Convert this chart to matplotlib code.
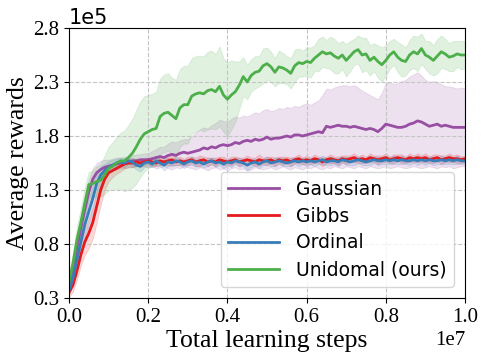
import numpy as np
import matplotlib
matplotlib.use("Agg")
import matplotlib.pyplot as plt

# values in units of 1e5, sampled every 1e5 steps (0 .. 1e7)
gaussian_mean = [
    0.40, 0.55, 0.76, 0.95, 1.12, 1.28, 1.40, 1.46, 1.49, 1.51,
    1.52, 1.53, 1.54, 1.55, 1.56, 1.56, 1.57, 1.57, 1.58, 1.58,
    1.58, 1.59, 1.60, 1.61, 1.60, 1.62, 1.63, 1.62, 1.64, 1.65,
    1.64, 1.65, 1.66, 1.67, 1.69, 1.68, 1.70, 1.69, 1.71, 1.72,
    1.71, 1.72, 1.74, 1.73, 1.75, 1.76, 1.75, 1.77, 1.76, 1.77,
    1.79, 1.77, 1.78, 1.78, 1.79, 1.80, 1.79, 1.81, 1.81, 1.80,
    1.81, 1.82, 1.83, 1.84, 1.83, 1.89, 1.88, 1.89, 1.90, 1.89,
    1.89, 1.88, 1.89, 1.88, 1.87, 1.86, 1.87, 1.86, 1.84, 1.87,
    1.91, 1.90, 1.89, 1.88, 1.88, 1.89, 1.91, 1.92, 1.94, 1.93,
    1.91, 1.89, 1.90, 1.91, 1.89, 1.90, 1.89, 1.88, 1.88, 1.88, 1.88]
gaussian_upper = [
    0.48, 0.66, 0.88, 1.07, 1.24, 1.40, 1.50, 1.55, 1.57, 1.58,
    1.58, 1.59, 1.60, 1.60, 1.61, 1.61, 1.62, 1.63, 1.63, 1.64,
    1.64, 1.66, 1.68, 1.70, 1.70, 1.73, 1.75, 1.74, 1.76, 1.77,
    1.77, 1.80, 1.83, 1.86, 1.88, 1.87, 1.90, 1.92, 1.95, 1.94,
    1.93, 1.96, 1.98, 1.97, 1.99, 1.98, 2.00, 2.02, 2.01, 2.04,
    2.05, 2.03, 2.04, 2.06, 2.05, 2.07, 2.06, 2.08, 2.07, 2.09,
    2.10, 2.09, 2.11, 2.13, 2.18, 2.24, 2.23, 2.25, 2.26, 2.27,
    2.27, 2.26, 2.27, 2.25, 2.22, 2.20, 2.18, 2.16, 2.14, 2.20,
    2.29, 2.30, 2.28, 2.29, 2.31, 2.32, 2.35, 2.37, 2.39, 2.36,
    2.32, 2.30, 2.31, 2.30, 2.28, 2.26, 2.26, 2.25, 2.24, 2.25, 2.24]
gaussian_lower = [
    0.34, 0.45, 0.64, 0.82, 0.98, 1.14, 1.28, 1.37, 1.42, 1.45,
    1.47, 1.48, 1.49, 1.50, 1.50, 1.51, 1.51, 1.52, 1.52, 1.52,
    1.51, 1.52, 1.50, 1.51, 1.52, 1.50, 1.49, 1.51, 1.50, 1.52,
    1.51, 1.50, 1.49, 1.51, 1.50, 1.48, 1.50, 1.51, 1.49, 1.50,
    1.48, 1.50, 1.51, 1.49, 1.50, 1.48, 1.49, 1.51, 1.50, 1.49,
    1.50, 1.51, 1.49, 1.50, 1.52, 1.50, 1.49, 1.51, 1.50, 1.49,
    1.51, 1.50, 1.52, 1.50, 1.49, 1.51, 1.50, 1.52, 1.51, 1.50,
    1.52, 1.51, 1.50, 1.52, 1.51, 1.50, 1.52, 1.51, 1.50, 1.51,
    1.52, 1.50, 1.51, 1.52, 1.51, 1.50, 1.51, 1.52, 1.51, 1.50,
    1.51, 1.52, 1.51, 1.50, 1.52, 1.51, 1.52, 1.50, 1.51, 1.52, 1.52]

gibbs_mean = [
    0.35, 0.42, 0.55, 0.70, 0.82, 0.90, 1.00, 1.15, 1.30, 1.40,
    1.46, 1.48, 1.50, 1.52, 1.54, 1.55, 1.55, 1.56, 1.55, 1.56,
    1.57, 1.56, 1.55, 1.57, 1.56, 1.57, 1.58, 1.56, 1.57, 1.56,
    1.57, 1.58, 1.56, 1.57, 1.58, 1.56, 1.57, 1.56, 1.58, 1.57,
    1.56, 1.57, 1.58, 1.56, 1.57, 1.58, 1.57, 1.56, 1.58, 1.57,
    1.57, 1.58, 1.56, 1.58, 1.57, 1.58, 1.56, 1.58, 1.59, 1.57,
    1.58, 1.57, 1.59, 1.58, 1.56, 1.58, 1.59, 1.58, 1.57, 1.59,
    1.58, 1.59, 1.60, 1.58, 1.59, 1.58, 1.60, 1.59, 1.58, 1.59,
    1.60, 1.58, 1.59, 1.60, 1.59, 1.58, 1.60, 1.59, 1.60, 1.59,
    1.60, 1.58, 1.59, 1.60, 1.58, 1.59, 1.60, 1.59, 1.59, 1.58, 1.59]
gibbs_spread = [
    0.04, 0.06, 0.08, 0.10, 0.12, 0.14, 0.15, 0.15, 0.14, 0.10,
    0.08, 0.06, 0.05, 0.05, 0.04, 0.04, 0.04, 0.03, 0.04, 0.03,
    0.03, 0.04, 0.03, 0.04, 0.03, 0.04, 0.05, 0.03, 0.04, 0.03,
    0.04, 0.03, 0.04, 0.05, 0.03, 0.04, 0.03, 0.04, 0.03, 0.04,
    0.03, 0.04, 0.03, 0.04, 0.03, 0.04, 0.03, 0.04, 0.05, 0.03,
    0.04, 0.03, 0.04, 0.03, 0.04, 0.03, 0.04, 0.03, 0.04, 0.03,
    0.04, 0.03, 0.04, 0.03, 0.04, 0.03, 0.04, 0.03, 0.04, 0.03,
    0.04, 0.03, 0.04, 0.03, 0.04, 0.03, 0.04, 0.03, 0.04, 0.03,
    0.04, 0.03, 0.04, 0.03, 0.04, 0.03, 0.04, 0.03, 0.04, 0.03,
    0.04, 0.03, 0.04, 0.03, 0.04, 0.03, 0.04, 0.03, 0.04, 0.03, 0.03]

ordinal_mean = [
    0.37, 0.48, 0.65, 0.82, 0.98, 1.10, 1.22, 1.36, 1.44, 1.48,
    1.51, 1.53, 1.55, 1.56, 1.55, 1.57, 1.56, 1.53, 1.52, 1.55,
    1.56, 1.54, 1.57, 1.55, 1.53, 1.56, 1.55, 1.57, 1.56, 1.54,
    1.56, 1.57, 1.55, 1.56, 1.54, 1.56, 1.57, 1.55, 1.56, 1.54,
    1.56, 1.55, 1.57, 1.56, 1.55, 1.53, 1.55, 1.56, 1.54, 1.56,
    1.57, 1.55, 1.56, 1.57, 1.56, 1.55, 1.56, 1.57, 1.56, 1.57,
    1.56, 1.57, 1.56, 1.57, 1.58, 1.56, 1.57, 1.57, 1.56, 1.58,
    1.57, 1.56, 1.57, 1.58, 1.57, 1.56, 1.57, 1.58, 1.57, 1.57,
    1.58, 1.57, 1.58, 1.57, 1.58, 1.57, 1.57, 1.58, 1.57, 1.58,
    1.57, 1.58, 1.57, 1.57, 1.58, 1.57, 1.58, 1.57, 1.58, 1.57, 1.57]
ordinal_spread = [
    0.03, 0.05, 0.08, 0.10, 0.11, 0.12, 0.12, 0.10, 0.08, 0.06,
    0.06, 0.05, 0.04, 0.04, 0.04, 0.03, 0.04, 0.04, 0.05, 0.04,
    0.04, 0.03, 0.04, 0.03, 0.05, 0.04, 0.03, 0.04, 0.03, 0.04,
    0.03, 0.04, 0.03, 0.04, 0.03, 0.04, 0.03, 0.04, 0.03, 0.04,
    0.03, 0.04, 0.03, 0.04, 0.03, 0.05, 0.04, 0.03, 0.04, 0.03,
    0.04, 0.03, 0.04, 0.03, 0.04, 0.03, 0.04, 0.03, 0.04, 0.03,
    0.04, 0.03, 0.04, 0.03, 0.04, 0.03, 0.04, 0.03, 0.04, 0.03,
    0.04, 0.03, 0.04, 0.03, 0.04, 0.03, 0.04, 0.03, 0.04, 0.03,
    0.04, 0.03, 0.04, 0.03, 0.04, 0.03, 0.04, 0.03, 0.04, 0.03,
    0.04, 0.03, 0.04, 0.03, 0.04, 0.03, 0.04, 0.03, 0.04, 0.03, 0.03]

unidomal_mean = [
    0.45, 0.62, 0.84, 1.00, 1.18, 1.35, 1.36, 1.38, 1.39, 1.44,
    1.50, 1.52, 1.55, 1.57, 1.57, 1.60, 1.64, 1.70, 1.77, 1.82,
    1.84, 1.86, 1.87, 1.98, 2.01, 2.02, 1.99, 1.96, 2.06, 2.09,
    2.09, 2.17, 2.19, 2.20, 2.19, 2.22, 2.23, 2.21, 2.26, 2.18,
    2.14, 2.18, 2.21, 2.27, 2.35, 2.30, 2.36, 2.39, 2.40, 2.45,
    2.47, 2.44, 2.39, 2.44, 2.43, 2.41, 2.38, 2.45, 2.48, 2.47,
    2.49, 2.48, 2.52, 2.55, 2.58, 2.56, 2.57, 2.54, 2.52, 2.55,
    2.50, 2.54, 2.58, 2.60, 2.55, 2.56, 2.50, 2.53, 2.49, 2.46,
    2.50, 2.55, 2.58, 2.53, 2.50, 2.49, 2.55, 2.58, 2.56, 2.61,
    2.55, 2.53, 2.50, 2.54, 2.58, 2.56, 2.53, 2.54, 2.56, 2.55, 2.55]
unidomal_spread = [
    0.08, 0.10, 0.12, 0.14, 0.15, 0.12, 0.12, 0.14, 0.15, 0.18,
    0.20, 0.22, 0.24, 0.26, 0.28, 0.30, 0.32, 0.34, 0.35, 0.35,
    0.34, 0.33, 0.34, 0.35, 0.36, 0.36, 0.35, 0.36, 0.36, 0.36,
    0.36, 0.35, 0.35, 0.34, 0.35, 0.36, 0.36, 0.35, 0.37, 0.34,
    0.34, 0.32, 0.28, 0.22, 0.18, 0.16, 0.15, 0.15, 0.14, 0.16,
    0.15, 0.14, 0.13, 0.15, 0.14, 0.13, 0.14, 0.15, 0.13, 0.12,
    0.13, 0.14, 0.12, 0.15, 0.14, 0.13, 0.15, 0.16, 0.14, 0.13,
    0.15, 0.14, 0.12, 0.13, 0.16, 0.15, 0.14, 0.13, 0.15, 0.16,
    0.14, 0.13, 0.12, 0.14, 0.15, 0.13, 0.14, 0.15, 0.16, 0.14,
    0.13, 0.15, 0.14, 0.16, 0.15, 0.14, 0.13, 0.14, 0.12, 0.13, 0.13]

labels = ["Gaussian", "Gibbs", "Ordinal", "Unidomal (ours)"]
colors = ["#984ea3", "#e41a1c", "#377eb8", "#4daf4a"]
x_ticks = [0, 0.2e7, 0.4e7, 0.6e7, 0.8e7, 1.0e7]
y_ticks = [0.3e5, 0.8e5, 1.3e5, 1.8e5, 2.3e5, 2.8e5]

steps = np.linspace(0, 1e7, len(gaussian_mean))
scale = 1e5

fig = plt.figure(figsize=(4.86, 3.61), dpi=100)
ax = fig.add_axes([69 / 486, 1 - 298 / 361, 396 / 486, 270 / 361])

def m(a):
    return np.array(a) * scale

bands = [
    (m(gaussian_mean), m(gaussian_lower), m(gaussian_upper)),
    (m(gibbs_mean), m(gibbs_mean) - m(gibbs_spread), m(gibbs_mean) + m(gibbs_spread)),
    (m(ordinal_mean), m(ordinal_mean) - m(ordinal_spread), m(ordinal_mean) + m(ordinal_spread)),
    (m(unidomal_mean), m(unidomal_mean) - m(unidomal_spread), m(unidomal_mean) + m(unidomal_spread)),
]
for (mean, lo, hi), c, lab in zip(bands, colors, labels):
    ax.fill_between(steps, lo, hi, color=c, alpha=0.17, linewidth=0.6)
    ax.plot(steps, mean, color=c, lw=2, label=lab)

ax.set_xlim(0, 1e7)
ax.set_ylim(0.3e5, 2.8e5)
ax.set_xticks(x_ticks)
ax.set_yticks(y_ticks)
ax.ticklabel_format(style="sci", scilimits=(0, 0))
ax.grid(True, linestyle="--", color="#c4c4c4", linewidth=0.8)
ax.tick_params(labelsize=15)
for t in ax.get_xticklabels() + ax.get_yticklabels():
    t.set_fontfamily("Liberation Serif")
ax.xaxis.get_offset_text().set_fontsize(15)
ax.xaxis.get_offset_text().set_fontfamily("Liberation Serif")
ax.yaxis.get_offset_text().set_fontsize(15)
ax.set_xlabel("Total learning steps", fontsize=18.5, fontfamily="Liberation Serif", labelpad=2)
ax.set_ylabel("Average rewards", fontsize=18.5, fontfamily="Liberation Serif", labelpad=3)

ax.legend(loc="lower right", fontsize=13.5, labelspacing=0.42, borderpad=0.4,
          handlelength=2.7, handletextpad=0.9, borderaxespad=0.6, framealpha=0.8)

fig.savefig("out.png", dpi=100)
